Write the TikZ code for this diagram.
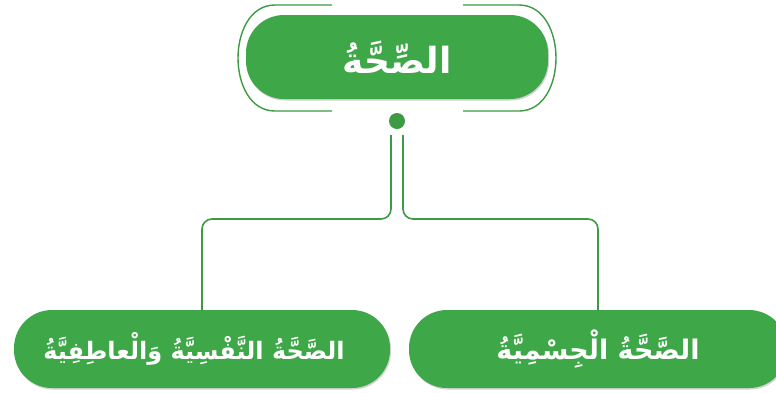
\documentclass[tikz,border=0pt]{standalone}
\usepackage{fontspec}
\TeXXeTstate=1
\newfontfamily\arabicfont[Script=Arabic]{DejaVu Sans}
\usetikzlibrary{shadows}
\definecolor{gfill}{RGB}{62,167,72}
\definecolor{gline}{RGB}{60,155,68}
\tikzset{
  pill/.style={fill=gfill, rounded corners=38pt, text=white, inner sep=0pt,
    drop shadow={shadow xshift=1pt, shadow yshift=-1.5pt, opacity=0.35, fill=gray}},
  conn/.style={draw=gline, line width=1.6pt, rounded corners=10pt},
  frameline/.style={draw=gline, line width=1.4pt},
}
\begin{document}
\begin{tikzpicture}[x=1pt,y=-1pt]
\useasboundingbox (0,0) rectangle (776,392);
\clip (0,0) rectangle (776,392);
\fill[white] (0,0) rectangle (776,392);
% top node
\node[pill, minimum width=302pt, minimum height=84pt] (top) at (397,57)
  {\fontsize{36}{42}\arabicfont\bfseries\beginR الصِّحَّةُ\endR};
% bracket outline around top node
\draw[frameline] (332,5) -- (275,5) to[out=180,in=90] (238,58) to[out=-90,in=180] (275,111) -- (332,111);
\draw[frameline] (463,5) -- (519,5) to[out=0,in=90] (556,58) to[out=-90,in=0] (519,111) -- (463,111);
% dot
\node[circle, fill=gline, minimum size=16pt, inner sep=0pt] (dot) at (397,121) {};
% bottom nodes
\node[pill, minimum width=376pt, minimum height=78pt] (left) at (202,349)
  {\fontsize{24}{30}\arabicfont\bfseries\beginR الصَّحَّةُ النَّفْسِيَّةُ وَالْعاطِفِيَّةُ\endR\hspace*{16pt}};
\node[pill, minimum width=378pt, minimum height=78pt] (right) at (598,349)
  {\fontsize{27}{32}\arabicfont\bfseries\beginR الصَّحَّةُ الْجِسْمِيَّةُ\endR};
% connectors
\coordinate (a1) at (391,135);
\coordinate (a2) at (403,135);
\draw[conn] (a1) -- (391,219) -- (202,219) -- (left.north);
\draw[conn] (a2) -- (403,219) -- (598,219) -- (right.north);
\end{tikzpicture}
\end{document}
